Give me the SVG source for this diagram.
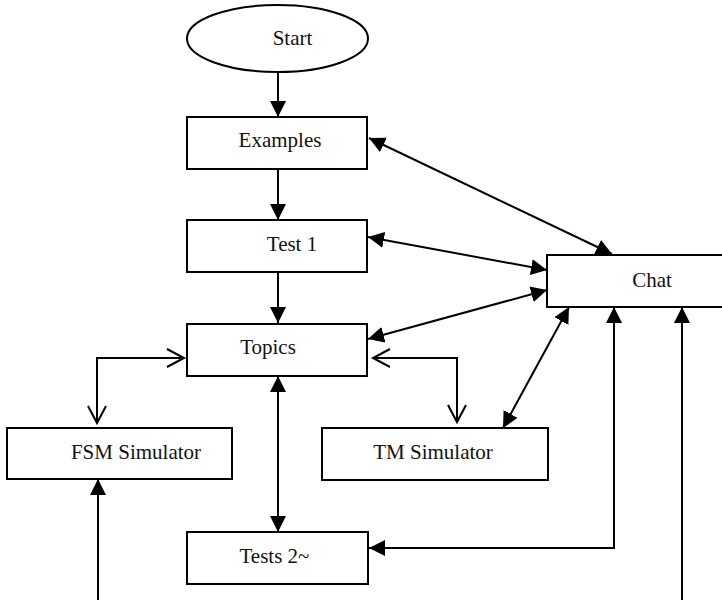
<svg xmlns="http://www.w3.org/2000/svg" width="722" height="600" viewBox="0 0 722 600">
  <style>
    .box { fill: #fff; stroke: #000; stroke-width: 2; }
    .lbl { font-family: "Liberation Serif", "Times New Roman", serif; font-size: 21px; fill: #111; text-anchor: middle; }
    .wire { fill: none; stroke: #000; stroke-width: 2; }
    .both { marker-start: url(#solid); marker-end: url(#solid); }
    .one { marker-end: url(#solid); }
    .open { marker-start: url(#open); marker-end: url(#open); }
  </style>
  <defs>
    <marker id="solid" markerUnits="userSpaceOnUse" markerWidth="16" markerHeight="16" viewBox="0 0 15 15" refX="15" refY="7.5" orient="auto-start-reverse">
      <path d="M0,0 L15,7.5 L0,15 z" fill="#000"/>
    </marker>
    <marker id="open" markerUnits="userSpaceOnUse" markerWidth="22" markerHeight="22" viewBox="-2 -2 22 22" refX="17" refY="9" orient="auto-start-reverse">
      <path d="M0,0 L17,9 L0,18" fill="none" stroke="#000" stroke-width="2"/>
    </marker>
  </defs>

  <g id="connectors">
    <line class="wire one" x1="278" y1="72" x2="278" y2="117"/>
    <line class="wire one" x1="278" y1="169" x2="278" y2="220"/>
    <line class="wire one" x1="278" y1="272" x2="278" y2="323"/>
    <line class="wire both" x1="278" y1="376" x2="278" y2="532"/>
    <line class="wire both" x1="369" y1="138" x2="612" y2="254"/>
    <line class="wire both" x1="368" y1="237" x2="547" y2="270"/>
    <line class="wire both" x1="368" y1="339" x2="547" y2="290"/>
    <line class="wire both" x1="569" y1="307" x2="503" y2="428"/>
    <path class="wire both" d="M369,548 H614 V307"/>
    <line class="wire one" x1="682" y1="600" x2="682" y2="307"/>
    <line class="wire one" x1="98" y1="600" x2="98" y2="479"/>
    <path class="wire open" d="M184,358 H97 V423"/>
    <path class="wire open" d="M373,358 H457 V422"/>
  </g>

  <g id="start">
    <ellipse class="box" cx="277.5" cy="38.5" rx="90.5" ry="33.5"/>
    <text class="lbl" x="292.5" y="45">Start</text>
  </g>
  <g id="examples">
    <rect class="box" x="187" y="117" width="180" height="52"/>
    <text class="lbl" x="280" y="147">Examples</text>
  </g>
  <g id="test1">
    <rect class="box" x="187" y="220" width="180" height="52"/>
    <text class="lbl" x="292" y="251">Test 1</text>
  </g>
  <g id="topics">
    <rect class="box" x="187" y="324" width="180" height="52"/>
    <text class="lbl" x="268" y="354">Topics</text>
  </g>
  <g id="fsm-simulator">
    <rect class="box" x="7" y="428" width="225" height="51"/>
    <text class="lbl" x="136" y="459">FSM Simulator</text>
  </g>
  <g id="tm-simulator">
    <rect class="box" x="322" y="428" width="226" height="52"/>
    <text class="lbl" x="433" y="459">TM Simulator</text>
  </g>
  <g id="tests2">
    <rect class="box" x="187" y="532" width="181" height="52"/>
    <text class="lbl" x="274.5" y="563">Tests 2~</text>
  </g>
  <g id="chat">
    <rect class="box" x="547" y="255" width="190" height="52"/>
    <text class="lbl" x="652" y="287">Chat</text>
  </g>
</svg>
